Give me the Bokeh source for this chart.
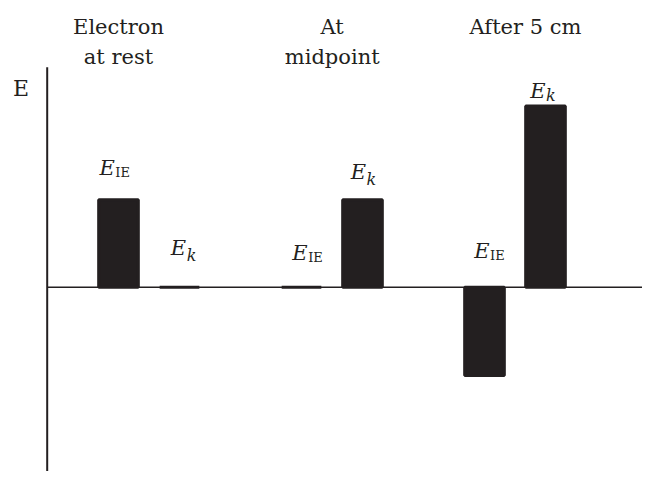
from bokeh.plotting import figure
from bokeh.models import Range1d, ColumnDataSource
from bokeh.embed import file_html
from bokeh.resources import INLINE
from bokeh.core.properties import value

# ---------------- data ----------------
groups = ["Electron\nat rest", "At\nmidpoint", "After 5 cm"]
series = ["IE", "k"]                 # E_IE (internal energy) and E_k (kinetic energy)
e_ie = [1.0, 0.0, -1.01]
e_k = [0.0, 1.0, 2.07]

# ---------------- layout / style ----------------
INK = "#231f20"
FONT = value("DejaVu Serif")
BASE_FIX = 0.4         # empirical baseline correction (fraction of font size)
W, H = 642, 471
UNIT_Y = 87.5          # px per energy unit
UNIT_X = 61.0          # px per bar slot
X0_PX, Y0_PX = 118.0, 286.7   # pixel location of first bar centre / zero line


def px_x(px):
    return (px - X0_PX) / UNIT_X


def px_y(py):
    return (Y0_PX - py) / UNIT_Y


xs, vals, subs = [], [], []
for g in range(len(groups)):
    for b, s in enumerate(series):
        xs.append(3 * g + b)
        vals.append([e_ie, e_k][b][g])
        subs.append(s)

# label placement (screen offsets, px)
junction_dx = [-3.7, 6.7, 6.2, 3.5, 5.0, 0.0]
label_dy = [-22.9, -30.7, -25.7, -19.2, -27.4, -7.1]
sub_extra = [1.0, 5.0, 1.0, 5.0, 1.0, 3.0]
E_SIZE = 21
sub_size = {"IE": 13, "k": 16}
sub_style = {"IE": "normal", "k": "italic"}
TITLE_SIZE = 21
AXIS_SIZE = 22

p = figure(width=W, height=H, output_backend="svg", toolbar_location=None,
           x_range=Range1d(px_x(0), px_x(W)), y_range=Range1d(px_y(H), px_y(0)),
           x_axis_type=None, y_axis_type=None, min_border=0,
           min_border_left=0, min_border_right=0, min_border_top=0, min_border_bottom=0)
p.outline_line_color = None
p.grid.visible = False
p.background_fill_color = "white"
p.border_fill_color = "white"

# axes drawn as lines
ax_x = px_x(46.7)
p.segment(x0=[ax_x], y0=[px_y(66.7)], x1=[ax_x], y1=[px_y(H + 20)],
          line_color=INK, line_width=2)
p.segment(x0=[ax_x], y0=[0], x1=[px_x(W + 20)], y1=[0],
          line_color=INK, line_width=1.5)

# bars
src = ColumnDataSource(dict(x=xs, top=vals))
p.vbar(x="x", top="top", bottom=0, width=0.65, source=src,
       fill_color=INK, line_color=INK, line_width=3)

# bar labels: italic E plus subscript
for i in range(len(xs)):
    ya = max(vals[i], 0)
    p.text(x=[xs[i]], y=[ya], text=["E"], text_font=FONT, text_font_size=f"{E_SIZE}px",
           text_font_style="italic", text_align="right", text_baseline="alphabetic",
           text_color=INK, x_offset=junction_dx[i],
           y_offset=label_dy[i] - BASE_FIX * E_SIZE)
    s = subs[i]
    p.text(x=[xs[i]], y=[ya], text=[s], text_font=FONT, text_font_size=f"{sub_size[s]}px",
           text_font_style=sub_style[s], text_align="left", text_baseline="alphabetic",
           text_color=INK, x_offset=junction_dx[i] + 0.5,
           y_offset=label_dy[i] + sub_extra[i] - BASE_FIX * sub_size[s])

# group titles
title_x = [0.0, 3.503, 6.672]
line_y = [px_y(35), px_y(65)]
for g, name in enumerate(groups):
    for j, ln in enumerate(name.split("\n")):
        p.text(x=[title_x[g]], y=[line_y[j]], text=[ln], text_font=FONT,
               text_font_size=f"{TITLE_SIZE}px", text_align="center",
               text_baseline="alphabetic", text_color=INK,
               y_offset=-BASE_FIX * TITLE_SIZE)

# axis label
p.text(x=[px_x(20.5)], y=[px_y(97)], text=["E"], text_font=FONT,
       text_font_size=f"{AXIS_SIZE}px", text_align="center", text_baseline="alphabetic",
       text_color=INK, y_offset=-BASE_FIX * AXIS_SIZE)

open("out.html", "w").write(file_html(p, INLINE))
